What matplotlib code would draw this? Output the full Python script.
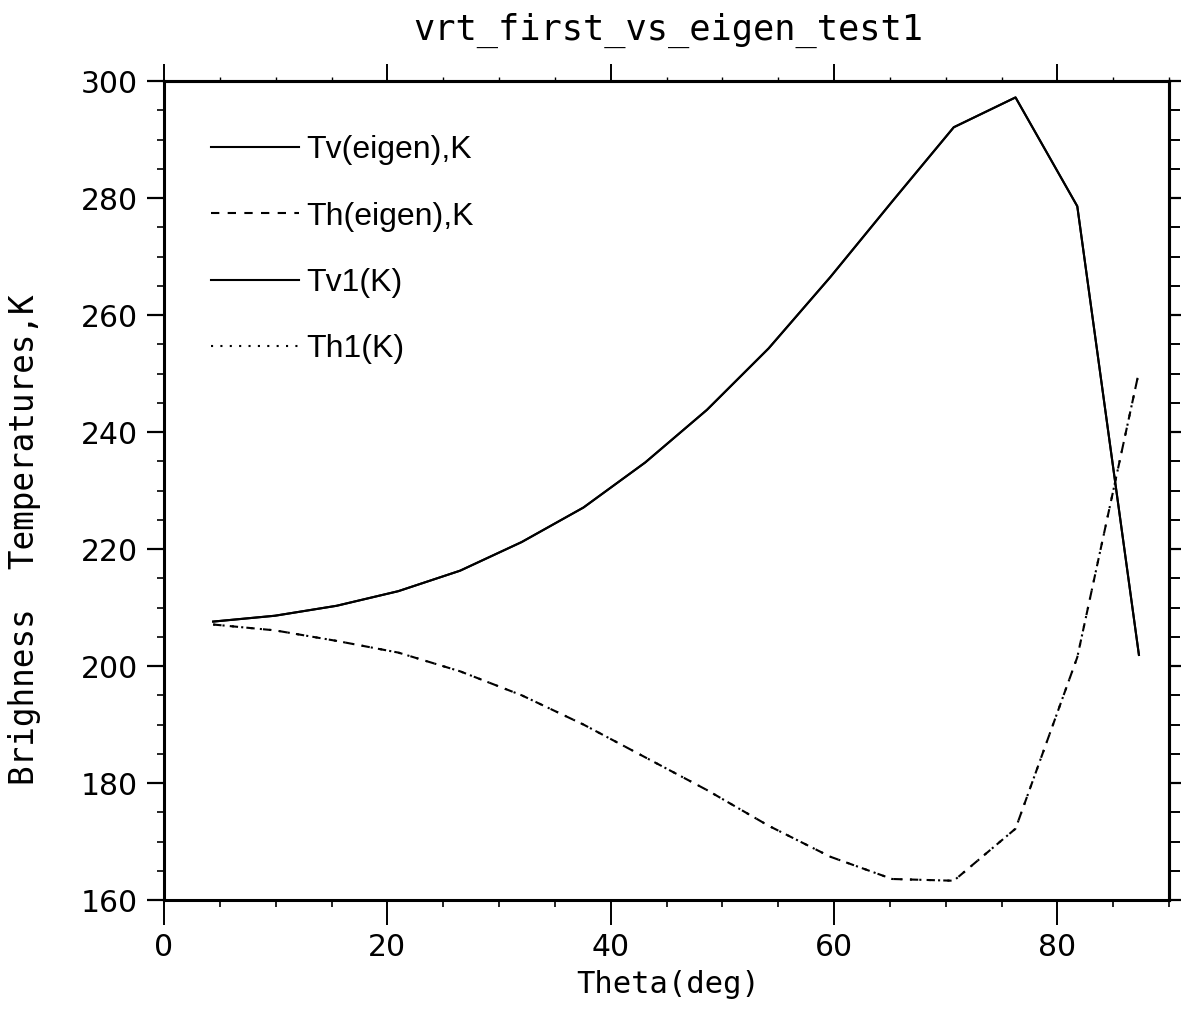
import numpy as np
import matplotlib
matplotlib.use("Agg")
import matplotlib.pyplot as plt

# angles (deg) and brightness temperatures (K)
theta = [4.4, 9.93, 15.45, 20.98, 26.51, 32.03, 37.56, 43.09,
         48.62, 54.14, 59.67, 65.2, 70.72, 76.25, 81.78, 87.3]
tv_eigen = [207.6, 208.6, 210.3, 212.8, 216.3, 221.2, 227.1, 234.8,
            243.8, 254.3, 266.5, 279.4, 292.1, 297.2, 278.6, 201.9]
th_eigen = [207.1, 206.1, 204.3, 202.3, 199.1, 195.0, 190.0, 184.4,
            178.8, 172.7, 167.4, 163.6, 163.3, 172.2, 201.5, 250.3]
tv1 = list(tv_eigen)
th1 = list(th_eigen)

labels = ["Tv(eigen),K", "Th(eigen),K", "Tv1(K)", "Th1(K)"]
title = "vrt_first_vs_eigen_test1"
xlabel = "Theta(deg)"
ylabel = "Brighness  Temperatures,K"

fig = plt.figure(figsize=(11.81, 10.13), dpi=100)
ax = fig.add_axes([0.1389, 0.1115, 0.8510, 0.8085])

lw = 1.5
ax.plot(theta, tv_eigen, color="black", lw=lw, label=labels[0])
ax.plot(theta, th_eigen, color="black", lw=lw, dashes=(4, 4), label=labels[1])
ax.plot(theta, tv1, color="black", lw=lw, label=labels[2])
ax.plot(theta, th1, color="black", lw=lw, dashes=(1, 3.5), label=labels[3])

ax.set_xlim(0, 90)
ax.set_ylim(160, 300)
ax.set_xticks(np.arange(0, 81, 20))
ax.set_xticks(np.arange(0, 91, 5), minor=True)
ax.set_yticks(np.arange(160, 301, 20))
ax.set_yticks(np.arange(160, 301, 5), minor=True)

for s in ax.spines.values():
    s.set_linewidth(2.2)

ax.tick_params(axis="x", which="major", direction="out", length=18, width=1.4,
               pad=6, top=False, right=False)
ax.tick_params(axis="x", which="minor", direction="out", length=5, width=1.2,
               top=False)
ax.tick_params(axis="y", which="major", direction="out", length=12, width=1.6,
               pad=7, right=False)
ax.tick_params(axis="y", which="minor", direction="out", length=5, width=1.2,
               right=False)
for lab in ax.get_xticklabels() + ax.get_yticklabels():
    lab.set_fontfamily("DejaVu Sans")
    lab.set_fontsize(21.5)

# top and right decorative tick rows
top = ax.secondary_xaxis("top")
top.set_xticks(np.arange(0, 81, 20))
top.set_xticks(np.arange(0, 91, 5), minor=True)
top.tick_params(which="major", direction="out", length=12, width=1.4, labeltop=False)
top.tick_params(which="minor", direction="out", length=3, width=1.0)
top.spines["top"].set_linewidth(2.2)

right = ax.secondary_yaxis("right")
right.set_yticks(np.arange(160, 301, 20))
right.set_yticks(np.arange(160, 301, 5), minor=True)
right.tick_params(which="major", direction="out", length=10, width=1.6, labelright=False)
right.tick_params(which="minor", direction="out", length=8, width=1.4)
right.spines["right"].set_linewidth(2.2)

leg = ax.legend(loc="upper left", bbox_to_anchor=(0.047, 0.934), frameon=False,
                handlelength=2.75, handletextpad=0.22, labelspacing=1.14,
                borderpad=0, borderaxespad=0,
                prop={"family": "Liberation Sans", "size": 23})

fig.text(0.566, 0.970, title, ha="center", va="center",
         family="DejaVu Sans Mono", size=25.5)
fig.text(0.566, 0.028, xlabel, ha="center", va="center",
         family="DejaVu Sans Mono", size=22)
fig.text(0.021, 0.467, ylabel, ha="center", va="center", rotation=90,
         family="DejaVu Sans Mono", size=23.5)

fig.savefig("out.png", dpi=100)
